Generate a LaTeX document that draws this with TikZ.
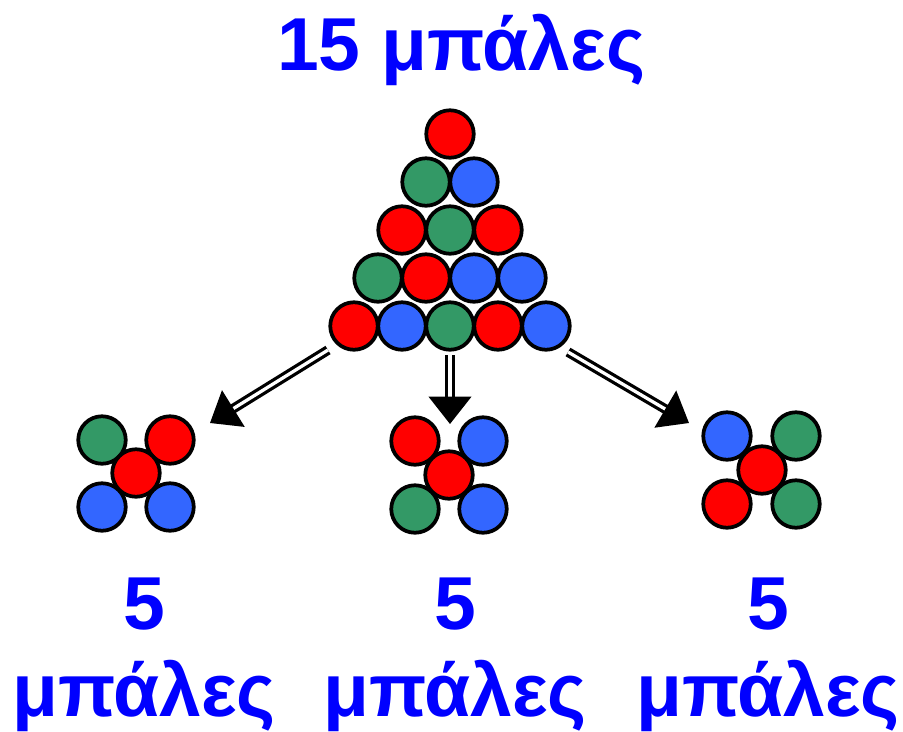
\documentclass[tikz,border=0pt]{standalone}
\usepackage{fontspec}
\setmainfont{Liberation Sans}
\usetikzlibrary{arrows.meta}
\definecolor{ballred}{HTML}{FF0000}
\definecolor{ballgreen}{HTML}{339966}
\definecolor{ballblue}{HTML}{3366FF}
\definecolor{labelblue}{HTML}{0000FF}

\begin{document}
\begin{tikzpicture}[
      x=0.02cm, y=-0.02cm,
      ball/.style={draw, circle, line width=0.075cm, inner sep=0pt, minimum size=0.95cm, fill=#1},
      lbl/.style={text=labelblue, font=\bfseries\fontsize{42.7}{49}\selectfont, align=center, inner sep=0pt, anchor=base},
      dbl/.style={double, line width=0.065cm, double distance=0.065cm, -{Triangle[length=0.55cm, width=0.85cm]}}
    ]
    \useasboundingbox (0,0) rectangle (903,731);

    % title
    \node[lbl] (title) at (461,70) {15 μπάλες};

    % 15 balls
    \node[ball=ballred]   (t11) at (450,134) {};
    \node[ball=ballgreen] (t21) at (426,182) {};
    \node[ball=ballblue]  (t22) at (474,182) {};
    \node[ball=ballred]   (t31) at (402,230) {};
    \node[ball=ballgreen] (t32) at (450,230) {};
    \node[ball=ballred]   (t33) at (498,230) {};
    \node[ball=ballgreen] (t41) at (378,278) {};
    \node[ball=ballred]   (t42) at (426,278) {};
    \node[ball=ballblue]  (t43) at (474,278) {};
    \node[ball=ballblue]  (t44) at (522,278) {};
    \node[ball=ballred]   (t51) at (354,326) {};
    \node[ball=ballblue]  (t52) at (402,326) {};
    \node[ball=ballgreen] (t53) at (450,326) {};
    \node[ball=ballred]   (t54) at (498,326) {};
    \node[ball=ballblue]  (t55) at (546,326) {};

    % left group
    \node[ball=ballgreen] (l1) at (102,440) {};
    \node[ball=ballred]   (l2) at (170,440) {};
    \node[ball=ballblue]  (l3) at (102,507) {};
    \node[ball=ballblue]  (l4) at (170,507) {};
    \node[ball=ballred]   (l0) at (136,473) {};

    % middle group
    \node[ball=ballred]   (m1) at (415,441) {};
    \node[ball=ballblue]  (m2) at (483,441) {};
    \node[ball=ballgreen] (m3) at (415,509) {};
    \node[ball=ballblue]  (m4) at (483,509) {};
    \node[ball=ballred]   (m0) at (449,475) {};

    % right group
    \node[ball=ballblue]  (r1) at (727,436) {};
    \node[ball=ballgreen] (r2) at (796,436) {};
    \node[ball=ballred]   (r3) at (727,504) {};
    \node[ball=ballgreen] (r4) at (796,504) {};
    \node[ball=ballred]   (r0) at (762,470) {};

    % labels (base = last line)
    \node[lbl] (lcount) at (144,716) {5\\μπάλες};
    \node[lbl] (mcount) at (455,716) {5\\μπάλες};
    \node[lbl] (rcount) at (768,716) {5\\μπάλες};

    % arrows
    \coordinate (lfrom) at (328,350);
    \coordinate (lto)   at (210,423);
    \coordinate (mfrom) at (450,355);
    \coordinate (mto)   at (450,424);
    \coordinate (rfrom) at (568,352);
    \coordinate (rto)   at (689,423);
    \draw[dbl] (lfrom) -- (lto);
    \draw[dbl] (mfrom) -- (mto);
    \draw[dbl] (rfrom) -- (rto);
  \end{tikzpicture}
\end{document}
